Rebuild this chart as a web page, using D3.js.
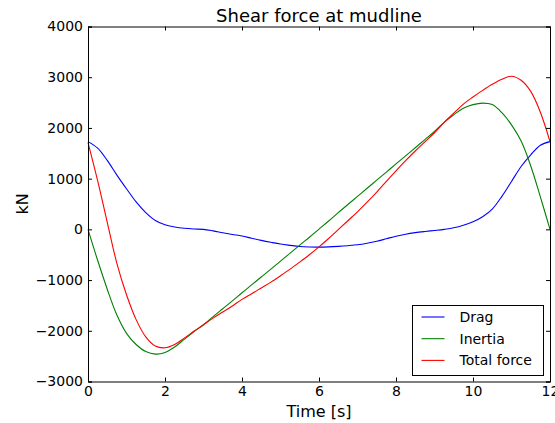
<!DOCTYPE html>
<html>
<head>
<meta charset="utf-8">
<script src="https://cdn.jsdelivr.net/npm/d3@7"></script>
<style>
  body { margin: 0; background: #fff; }
  text { font-family: "DejaVu Sans", sans-serif; fill: #000; }
</style>
</head>
<body>
<div id="chart"></div>
<script>

// time samples [s]
var times = [0, 0.25, 0.5, 0.75, 1, 1.25, 1.5, 1.75, 2, 2.25, 2.5, 2.75, 3, 3.25, 3.5, 3.75,
  4, 4.25, 4.5, 4.75, 5, 5.25, 5.5, 5.75, 6, 6.25, 6.5, 6.75, 7, 7.25, 7.5, 7.75,
  8, 8.25, 8.5, 8.75, 9, 9.25, 9.5, 9.75, 10, 10.25, 10.5, 10.75, 11, 11.25, 11.5, 11.75, 12];

// drag force [kN]
var drag = [1730, 1600, 1360, 1070, 800, 540, 330, 175, 90, 48, 22, 8, 0, -30, -66, -100,
  -131, -175, -217, -255, -290, -315, -337, -347, -350, -345, -335, -322, -305, -275, -235, -185,
  -135, -95, -65, -42, -22, 0, 30, 80, 150, 250, 400, 650, 945, 1240, 1470, 1660, 1730];

// inertia force [kN]
var inertia = [0, -610, -1180, -1690, -2050, -2270, -2410, -2460, -2430, -2320, -2170, -2020, -1880, -1720, -1565, -1410,
  -1250, -1095, -940, -785, -625, -470, -310, -155, 5, 165, 330, 490, 650, 810, 970, 1130,
  1290, 1450, 1610, 1770, 1930, 2110, 2260, 2390, 2460, 2490, 2460, 2300, 2060, 1740, 1250, 640, 0];

// total force [kN]
var total = [1710, 960, 140, -670, -1290, -1780, -2120, -2300, -2335, -2270, -2145, -2010, -1880, -1750, -1630, -1510,
  -1380, -1270, -1155, -1040, -915, -785, -645, -500, -345, -180, -5, 170, 345, 535, 735, 945,
  1155, 1355, 1545, 1725, 1905, 2110, 2290, 2470, 2610, 2740, 2860, 2960, 3020, 2940, 2720, 2310, 1730];

var seriesNames = ["Drag", "Inertia", "Total force"];
var seriesColors = ["#0000ff", "#008000", "#ff0000"];
var xTicks = [0, 2, 4, 6, 8, 10, 12];
var yTicks = [-3000, -2000, -1000, 0, 1000, 2000, 3000, 4000];

var svgWidth = 555;
var svgHeight = 423;
var margin = { top: 26.5, right: 5, bottom: 41.5, left: 88 };
var width = svgWidth - margin.left - margin.right;
var height = svgHeight - margin.top - margin.bottom;

var svg = d3.select("#chart")
  .append("svg")
  .attr("width", svgWidth)
  .attr("height", svgHeight);

var chartGroup = svg.append("g")
  .attr("transform", `translate(${margin.left}, ${margin.top})`);

// scales
var xLinearScale = d3.scaleLinear().domain([0, 12]).range([0, width]);
var yLinearScale = d3.scaleLinear().domain([-3000, 4000]).range([height, 0]);

// lines
var seriesData = [drag, inertia, total];
var line = d3.line()
  .x((d, i) => xLinearScale(times[i]))
  .y(d => yLinearScale(d))
  .curve(d3.curveCatmullRom.alpha(0.5));

seriesData.forEach(function(values, k) {
  chartGroup.append("path")
    .datum(values)
    .attr("d", line)
    .attr("fill", "none")
    .attr("stroke", seriesColors[k])
    .attr("stroke-width", 1.1);
});

// axes with inward ticks on all four sides
var bottomAxis = d3.axisBottom(xLinearScale).tickValues(xTicks).tickSize(-4).tickPadding(5).tickFormat(d3.format("d"));
var topAxis = d3.axisTop(xLinearScale).tickValues(xTicks).tickSize(-4).tickFormat("");
var leftAxis = d3.axisLeft(yLinearScale).tickValues(yTicks).tickSize(-4).tickPadding(5).tickFormat(d3.format("d"));
var rightAxis = d3.axisRight(yLinearScale).tickValues(yTicks).tickSize(-4).tickFormat("");

var axes = [
  chartGroup.append("g").attr("transform", `translate(0, ${height})`).call(bottomAxis),
  chartGroup.append("g").call(topAxis),
  chartGroup.append("g").call(leftAxis),
  chartGroup.append("g").attr("transform", `translate(${width}, 0)`).call(rightAxis)
];

axes.forEach(function(ax) {
  ax.select(".domain").attr("stroke", "#000").attr("stroke-width", 1);
  ax.selectAll(".tick line").attr("stroke", "#000");
  ax.selectAll("text").style("font-size", "14px").attr("fill", "#000");
});

// title and axis labels
chartGroup.append("text")
  .attr("x", width / 2)
  .attr("y", -5)
  .attr("text-anchor", "middle")
  .style("font-size", "18px")
  .text("Shear force at mudline");

chartGroup.append("text")
  .attr("x", width / 2)
  .attr("y", height + 35)
  .attr("text-anchor", "middle")
  .style("font-size", "16px")
  .text("Time [s]");

chartGroup.append("text")
  .attr("transform", "rotate(-90)")
  .attr("x", -height / 2)
  .attr("y", -60)
  .attr("text-anchor", "middle")
  .style("font-size", "16px")
  .text("kN");

// legend
var legend = svg.append("g").attr("transform", "translate(412.5, 305.5)");

legend.append("rect")
  .attr("width", 131)
  .attr("height", 70)
  .attr("fill", "#fff")
  .attr("stroke", "#000")
  .attr("stroke-width", 1);

seriesNames.forEach(function(name, k) {
  var y = 11.5 + k * 21.7;
  legend.append("line")
    .attr("x1", 9).attr("x2", 32)
    .attr("y1", y).attr("y2", y)
    .attr("stroke", seriesColors[k])
    .attr("stroke-width", 1.1);
  legend.append("text")
    .attr("x", 47)
    .attr("y", y + 5)
    .style("font-size", "14px")
    .text(name);
});

</script>
</body>
</html>
